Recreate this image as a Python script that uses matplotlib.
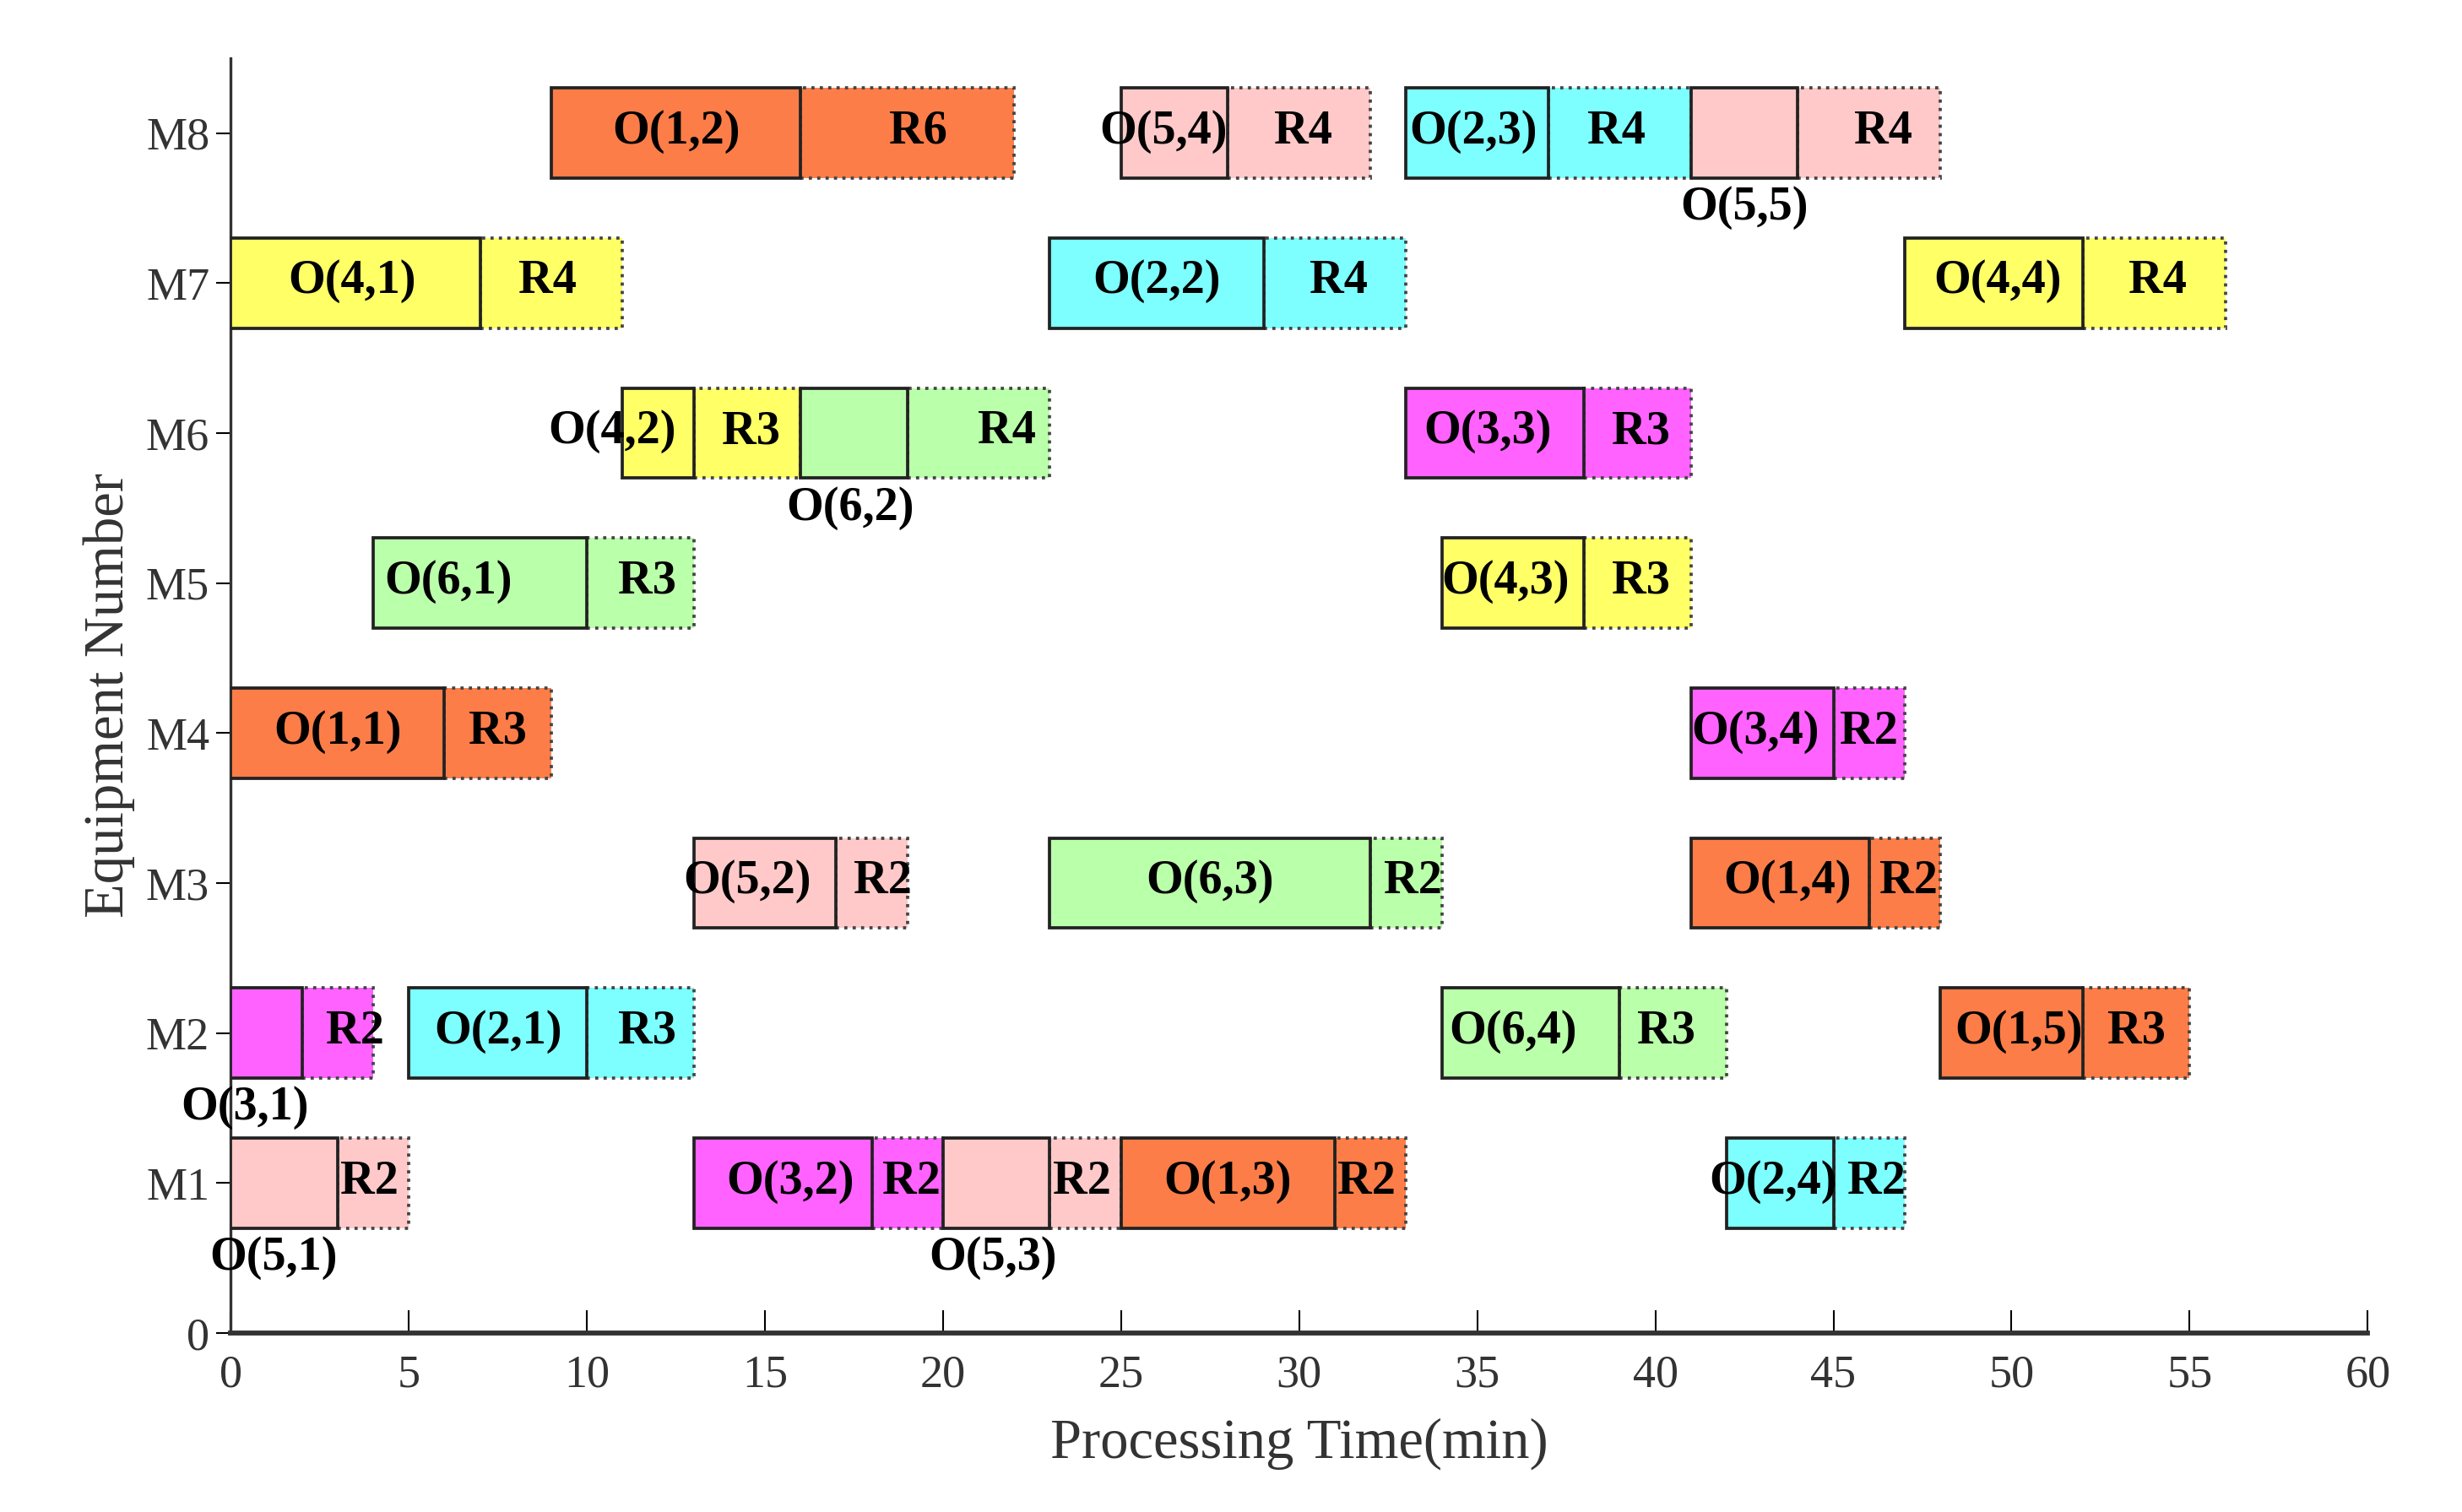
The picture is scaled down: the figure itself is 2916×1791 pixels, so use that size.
import matplotlib.pyplot as plt
from matplotlib.patches import Rectangle

# operations: machine, job, op index, start, processing time, rest label, rest duration
machines = [8, 8, 8, 8,
            7, 7, 7,
            6, 6, 6,
            5, 5,
            4, 4,
            3, 3, 3,
            2, 2, 2, 2,
            1, 1, 1, 1, 1]
jobs = [1, 5, 2, 5,
        4, 2, 4,
        4, 6, 3,
        6, 4,
        1, 3,
        5, 6, 1,
        3, 2, 6, 1,
        5, 3, 5, 1, 2]
op_idx = [2, 4, 3, 5,
          1, 2, 4,
          2, 2, 3,
          1, 3,
          1, 4,
          2, 3, 4,
          1, 1, 4, 5,
          1, 2, 3, 3, 4]
starts = [9, 25, 33, 41,
          0, 23, 47,
          11, 16, 33,
          4, 34,
          0, 41,
          13, 23, 41,
          0, 5, 34, 48,
          0, 13, 20, 25, 42]
durations = [7, 3, 4, 3,
             7, 6, 5,
             2, 3, 5,
             6, 4,
             6, 4,
             4, 9, 5,
             2, 5, 5, 4,
             3, 5, 3, 6, 3]
rest_names = ['R6', 'R4', 'R4', 'R4',
              'R4', 'R4', 'R4',
              'R3', 'R4', 'R3',
              'R3', 'R3',
              'R3', 'R2',
              'R2', 'R2', 'R2',
              'R2', 'R3', 'R3', 'R3',
              'R2', 'R2', 'R2', 'R2', 'R2']
rest_durations = [6, 4, 4, 4,
                  4, 4, 4,
                  3, 4, 3,
                  3, 3,
                  3, 2,
                  2, 2, 2,
                  2, 3, 3, 3,
                  2, 2, 2, 2, 2]

job_colors = {1: '#FC7D48', 2: '#7DFFFF', 3: '#FF62FF',
              4: '#FFFF66', 5: '#FFC9C9', 6: '#BAFFAA'}

# label placement (x of O label, x of R label, O label below bar?)
o_label_x = [12.5, 26.2, 34.9, 42.5,
             3.4, 26.0, 49.6,
             10.7, 17.4, 35.3,
             6.1, 35.8,
             3.0, 42.8,
             14.5, 27.5, 43.7,
             0.4, 7.5, 36.0, 50.2,
             1.2, 15.7, 21.4, 28.0, 43.3]
r_label_x = [19.3, 30.1, 38.9, 46.4,
             8.9, 31.1, 54.1,
             14.6, 21.8, 39.6,
             11.7, 39.6,
             7.5, 46.0,
             18.3, 33.2, 47.1,
             3.5, 11.7, 40.3, 53.5,
             3.9, 19.1, 23.9, 31.9, 46.2]
o_below = [False, False, False, True,
           False, False, False,
           False, True, False,
           False, False,
           False, False,
           False, False, False,
           True, False, False, False,
           True, False, True, False, False]

plt.rcParams['font.family'] = ['Liberation Serif', 'DejaVu Serif']

fig = plt.figure(figsize=(9.72, 5.97), dpi=300)
ax = fig.add_axes([0.0937, 0.1184, 0.868, 0.8432])

h = 0.6
for i in range(len(machines)):
    m = machines[i]
    c = job_colors[jobs[i]]
    s = starts[i]
    d = durations[i]
    ax.add_patch(Rectangle((s + d, m - h / 2), rest_durations[i], h, facecolor=c,
                           edgecolor='#444444', linestyle=':', linewidth=0.9, zorder=2))
    ax.add_patch(Rectangle((s, m - h / 2), d, h, facecolor=c,
                           edgecolor='#222222', linewidth=0.9, zorder=3))
    label = 'O(%d,%d)' % (jobs[i], op_idx[i])
    if o_below[i]:
        ax.text(o_label_x[i], m - 0.5, label, ha='center', va='center',
                fontsize=13.5, fontweight='bold', zorder=4)
    else:
        ax.text(o_label_x[i], m + 0.01, label, ha='center', va='center',
                fontsize=13.5, fontweight='bold', zorder=4)
    ax.text(r_label_x[i], m + 0.01, rest_names[i], ha='center', va='center',
            fontsize=13.5, fontweight='bold', zorder=4)

ax.set_xlim(0, 60)
ax.set_ylim(0, 8.5)
ax.set_xticks(range(0, 61, 5))
ax.set_yticks(range(0, 9))
ax.set_yticklabels(['0'] + ['M%d' % k for k in range(1, 9)])
ax.spines['top'].set_visible(False)
ax.spines['right'].set_visible(False)
ax.spines['bottom'].set_linewidth(1.4)
ax.spines['bottom'].set_color('#333333')
ax.spines['left'].set_linewidth(0.8)
ax.spines['left'].set_color('#333333')
ax.tick_params(axis='x', direction='in', length=6.5, width=0.5, labelsize=13,
               labelcolor='#333333', pad=6)
ax.tick_params(axis='y', direction='out', length=4, width=0.5, labelsize=13,
               labelcolor='#333333', pad=2)
ax.set_xlabel('Processing Time(min)', fontsize=16, color='#333333', labelpad=6)
ax.set_ylabel('Equipment Number', fontsize=16, color='#333333', labelpad=3)

fig.savefig('out.png', dpi=300)
